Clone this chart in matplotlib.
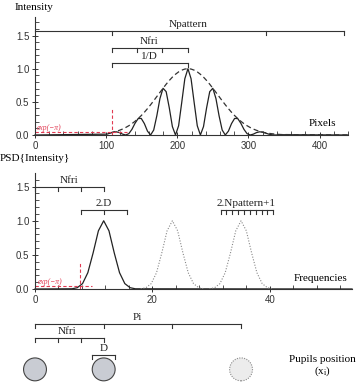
import numpy as np
import matplotlib.pyplot as plt
from matplotlib.patches import Circle

plt.rcParams['font.family'] = ['Liberation Serif', 'DejaVu Serif']

# top panel: fringe pattern on the detector (pixels)
pix_x = np.linspace(101.25, 346.25, 57)
fringes = [0.013, 0.028, 0.043, 0.048, 0.036, 0.013, 0.0, 0.020, 0.085, 0.177,
           0.248, 0.250, 0.172, 0.058, 0.0, 0.075, 0.290, 0.549, 0.705, 0.654,
           0.411, 0.127, 0.0, 0.139, 0.489, 0.849, 1.0, 0.849, 0.489, 0.139,
           0.0, 0.127, 0.411, 0.654, 0.705, 0.549, 0.290, 0.075, 0.0, 0.058,
           0.172, 0.250, 0.248, 0.177, 0.085, 0.020, 0.0, 0.013, 0.036, 0.048,
           0.043, 0.028, 0.0125, 0.003, 0.0, 0.0015, 0.004]
envelope = [0.025, 0.033, 0.043, 0.056, 0.071, 0.090, 0.113, 0.140, 0.171, 0.207,
            0.248, 0.293, 0.343, 0.398, 0.456, 0.517, 0.580, 0.643, 0.705, 0.766,
            0.822, 0.873, 0.916, 0.952, 0.978, 0.995, 1.0, 0.995, 0.978, 0.952,
            0.916, 0.873, 0.822, 0.766, 0.705, 0.643, 0.580, 0.517, 0.456, 0.398,
            0.343, 0.293, 0.248, 0.207, 0.171, 0.140, 0.113, 0.090, 0.071, 0.056,
            0.043, 0.033, 0.025, 0.019, 0.014, 0.010, 0.007]
pix_cut = 108          # where envelope = exp(-pi)
fringe_step = 35.5
pix_centre = 215
npattern_ticks = [108, 325, 435]

# middle panel: PSD peaks (frequencies)
psd_offsets = [-5.4, -4.5, -3.6, -2.7, -1.8, -0.9, 0, 0.9, 1.8, 2.7, 3.6, 4.5, 5.4]
psd_peak = [0.003, 0.019, 0.079, 0.239, 0.529, 0.853, 1.0, 0.853, 0.529, 0.239,
            0.079, 0.019, 0.003]
peak_centres = [11.7, 23.4, 35.1]
freq_cut = 7.7
exp_mpi = 0.043

# bottom: pupil positions
pupil_x = [0, 11.7]
ghost_pupil_x = 35.1
pupil_d = 3.9

red = '#e23a52'
dark = '#333333'
fig = plt.figure(figsize=(3.56, 3.82), dpi=100)


def style_axes(ax, xmaj, xmin, ymaj, ymin):
    for s in ['top', 'right']:
        ax.spines[s].set_visible(False)
    for s in ['left', 'bottom']:
        ax.spines[s].set_linewidth(0.8)
        ax.spines[s].set_color(dark)
    ax.set_xticks(xmaj)
    ax.set_xticks(xmin, minor=True)
    ax.set_yticks(ymaj)
    ax.set_yticks(ymin, minor=True)
    ax.set_yticklabels(['%.1f' % v for v in ymaj])
    ax.tick_params(which='major', direction='inout', length=5, width=0.7,
                   labelsize=7, pad=1.5, colors=dark)
    ax.tick_params(which='minor', direction='in', length=3, width=0.6, colors=dark)
    for lab in ax.get_xticklabels() + ax.get_yticklabels():
        lab.set_fontfamily('Liberation Sans')


def bracket(ax, x0, x1, y, ticks, tl, label=None, lx=None, pad=0.03, fs=8):
    ax.plot([x0, x1], [y, y], color=dark, lw=0.8, clip_on=False)
    for t in ticks:
        ax.plot([t, t], [y, y - tl], color=dark, lw=0.8, clip_on=False)
    if label:
        ax.text(lx, y + pad, label, ha='center', va='bottom', fontsize=fs, color='#222222')


# ---- top panel ----
ax1 = fig.add_axes([35/356, 1 - 135/382, 313/356, 118/382])
ax1.set_xlim(0, 440)
ax1.set_ylim(0, 1.78)
ax1.plot(np.r_[0, pix_x, 440], np.r_[0, fringes, 0], color='#222222', lw=0.9,
         clip_on=False)
ax1.plot(np.r_[pix_x[1:], 440], np.r_[envelope[1:], 0], color='#333333', lw=0.9,
         dashes=(4, 2.5))
ax1.plot([0, 130], [exp_mpi, exp_mpi], color=red, lw=0.8, dashes=(3, 2))
ax1.plot([pix_cut, pix_cut], [0, 0.41], color=red, lw=0.8, dashes=(3, 2))
ax1.text(3, 0.07, 'exp(−π)', color=red, fontsize=5.5, style='italic')
style_axes(ax1, [0, 100, 200, 300, 400], np.arange(0, 441, 20),
           [0, 0.5, 1.0, 1.5], np.arange(0, 1.75, 0.1))
ax1.text(423, 0.18, 'Pixels', ha='right', va='center', fontsize=8)
fig.text(15/356, 1 - 8/382, 'Intensity', ha='left', va='center', fontsize=8)

tl1 = 0.06
bracket(ax1, 0, npattern_ticks[-1], 1.565, npattern_ticks, tl1, 'Npattern', 215)
nfri_top = [pix_cut + i * fringe_step for i in range(4)]
bracket(ax1, nfri_top[0], nfri_top[-1], 1.31, nfri_top, tl1, 'Nfri', 161)
bracket(ax1, pix_cut, pix_centre, 1.085, [pix_cut, pix_centre], tl1, '1/D', 161)

# ---- middle panel ----
ax2 = fig.add_axes([35/356, 1 - 289/382, 317/356, 116/382])
ax2.set_xlim(0, 54)
ax2.set_ylim(0, 1.70)
offs = np.array(psd_offsets)
ax2.plot(np.r_[0, peak_centres[0] + offs, 54], np.r_[0, psd_peak, 0],
         color='#222222', lw=0.9, clip_on=False)
for c in peak_centres[1:]:
    ax2.plot(c + offs, psd_peak, color='#888888', lw=0.8, linestyle=(0, (1, 1.5)))
ax2.plot([0, 9.7], [exp_mpi, exp_mpi], color=red, lw=0.8, dashes=(3, 2))
ax2.plot([freq_cut, freq_cut], [0, 0.38], color=red, lw=0.8, dashes=(3, 2))
ax2.text(0.4, 0.07, 'exp(−π)', color=red, fontsize=5.5, style='italic')
style_axes(ax2, [0, 20, 40], np.arange(0, 54, 4),
           [0, 0.5, 1.0, 1.5], np.arange(0, 1.7, 0.1))
ax2.text(53.3, 0.16, 'Frequencies', ha='right', va='center', fontsize=8)
fig.text(0, 1 - 158/382, 'PSD{Intensity}', ha='left', va='center', fontsize=8)

f0 = peak_centres[0]
tl2 = 0.06
bracket(ax2, 0, f0, 1.5, [0, f0 / 3, 2 * f0 / 3, f0], tl2, 'Nfri', 5.85)
bracket(ax2, f0 - pupil_d, f0 + pupil_d, 1.16, [f0 - pupil_d, f0, f0 + pupil_d],
        tl2, '2.D', f0)
np_ticks = np.arange(31.6, 41, 1.0)
bracket(ax2, np_ticks[0], np_ticks[-1], 1.16, np_ticks, tl2, '2.Npattern+1', 36.0)

# ---- bottom: pupils ----
ax3 = fig.add_axes([35/356, 0, 317/356, 82/382])
ax3.set_xlim(0, 54)
ax3.set_ylim(0, 82 / 5.87)
ax3.axis('off')
tl3 = 0.7
bracket(ax3, 0, peak_centres[-1], 9.87, [0] + peak_centres, tl3, 'Pi', 17.5, pad=0.3)
bracket(ax3, 0, f0, 7.5, [0, f0 / 3, 2 * f0 / 3, f0], tl3, 'Nfri', 5.5, pad=0.3)
bracket(ax3, f0 - pupil_d / 2, f0 + pupil_d / 2, 4.6,
        [f0 - pupil_d / 2, f0 + pupil_d / 2], tl3, 'D', f0, pad=0.3)
for px in pupil_x:
    ax3.add_patch(Circle((px, 2.15), pupil_d / 2, facecolor='#c9ccd3',
                         edgecolor='#444444', lw=0.8, clip_on=False))
ax3.add_patch(Circle((ghost_pupil_x, 2.15), pupil_d / 2, facecolor='#ececec',
                     edgecolor='#888888', lw=0.8, linestyle=(0, (1, 1.2)),
                     clip_on=False))
ax3.text(48.9, 3.9, 'Pupils position', ha='center', va='center', fontsize=8)
ax3.text(48.9, 1.85, r'(x$_\mathregular{i}$)', ha='center', va='center', fontsize=8)

fig.savefig('out.png', dpi=100)
